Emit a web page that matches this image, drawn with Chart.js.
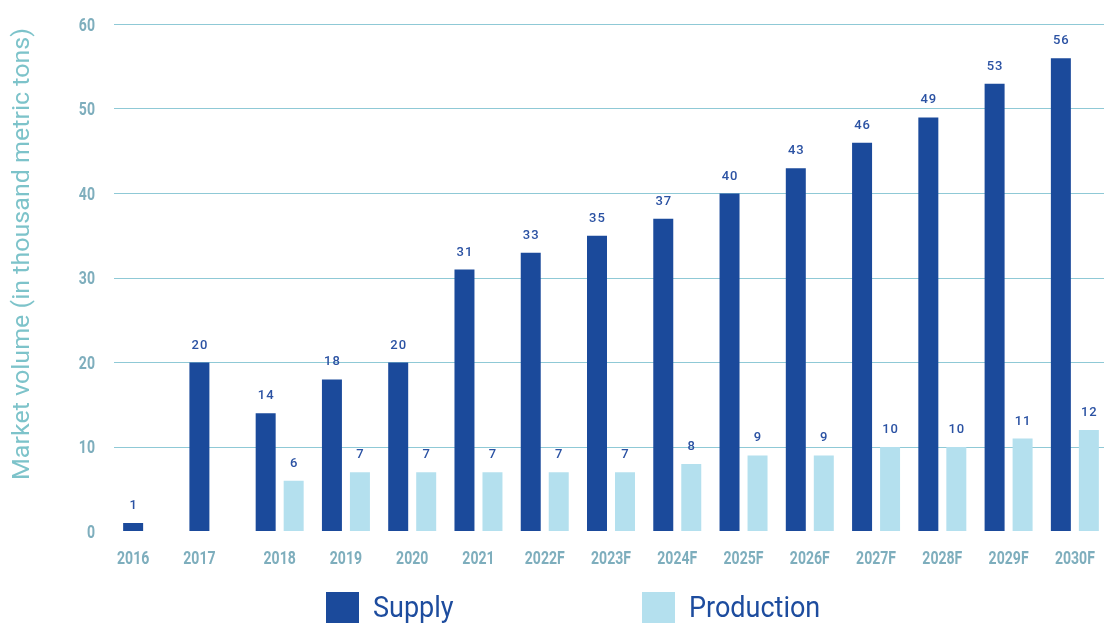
<!DOCTYPE html>
<html>
<head>
<meta charset="utf-8">
<script src="https://cdn.jsdelivr.net/npm/chart.js@4"></script>
<style>
  html, body { margin: 0; padding: 0; background: #ffffff; }
  #wrap { position: relative; width: 1104px; height: 623px; overflow: hidden; }
  #chart { position: absolute; left: 0; top: 0; }
  .legend-item { position: absolute; top: 592px; height: 31px; }
  .legend-box { position: absolute; left: 0; top: 0; width: 33px; height: 31px; }
  .legend-text { position: absolute; left: 47px; top: -3px; white-space: nowrap;
    font-family: Roboto, "Noto Sans", sans-serif; font-size: 30px; line-height: 36px; color: #1d4c9e;
    transform: scaleX(0.9); transform-origin: left center; }
</style>
</head>
<body>
<div id="wrap">
  <canvas id="chart" width="1108" height="623"></canvas>
  <div class="legend-item" style="left:326px"><div class="legend-box" style="background:#1b4a9b"></div><span class="legend-text">Supply</span></div>
  <div class="legend-item" style="left:642px"><div class="legend-box" style="background:#b4e0ee"></div><span class="legend-text">Production</span></div>
</div>
<script>
// Market volume, thousand metric tons
const categories = ['2016', '2017', '2018', '2019', '2020', '2021', '2022F', '2023F', '2024F', '2025F', '2026F', '2027F', '2028F', '2029F', '2030F'];
const supply     = [1, 20, 14, 18, 20, 31, 33, 35, 37, 40, 43, 46, 49, 53, 56];
const production = [null, null, 6, 7, 7, 7, 7, 7, 8, 9, 9, 10, 10, 11, 12];
const yTicks     = [0, 10, 20, 30, 40, 50, 60];
const yTitle     = 'Market volume (in thousand metric tons)';

const SUPPLY_COLOR = '#1b4a9b';
const PRODUCTION_COLOR = '#b4e0ee';
const GRID_COLOR = '#8fc9d6';
const AXIS_TEXT = '#7eaebd';
const TITLE_TEXT = '#7dc3ca';
const VALUE_TEXT = '#2b52a3';
const FONT = 'Roboto, "Noto Sans", sans-serif';
const NARROW = 0.74;   // horizontal squeeze for the condensed axis lettering

function drawSqueezed(ctx, text, x, y, align, sx) {
  ctx.save();
  ctx.translate(x, y);
  ctx.scale(sx, 1);
  ctx.textAlign = align;
  ctx.fillText(text, 0, 0);
  ctx.restore();
}

// Value labels above each bar
const valueLabels = {
  id: 'valueLabels',
  afterDatasetsDraw(chart) {
    const ctx = chart.ctx;
    ctx.save();
    ctx.fillStyle = VALUE_TEXT;
    ctx.font = '500 13px ' + FONT;
    ctx.letterSpacing = '1px';
    ctx.textAlign = 'center';
    ctx.textBaseline = 'alphabetic';
    chart.data.datasets.forEach((ds, di) => {
      const meta = chart.getDatasetMeta(di);
      meta.data.forEach((bar, i) => {
        const v = ds.data[i];
        if (v === null || v === undefined) return;
        ctx.fillText(String(v), bar.x + 0.5, bar.y - 14);
      });
    });
    ctx.restore();
  }
};

// Axis lettering: category labels, value ticks and the rotated title
const axisText = {
  id: 'axisText',
  afterDraw(chart) {
    const ctx = chart.ctx;
    const xScale = chart.scales.x;
    const yScale = chart.scales.y;
    const supplyMeta = chart.getDatasetMeta(0);
    ctx.save();
    ctx.fillStyle = AXIS_TEXT;
    ctx.font = 'bold 19px ' + FONT;
    ctx.textBaseline = 'alphabetic';

    // years without a production bar sit under the supply bar
    const yBase = chart.chartArea.bottom + 32;
    categories.forEach((label, i) => {
      const x = production[i] === null ? supplyMeta.data[i].x : xScale.getPixelForValue(i);
      drawSqueezed(ctx, label, x, yBase, 'center', NARROW);
    });

    yTicks.forEach(v => {
      drawSqueezed(ctx, String(v), 95, yScale.getPixelForValue(v) + 6, 'right', NARROW);
    });

    // title along the value axis
    ctx.fillStyle = TITLE_TEXT;
    ctx.font = '400 24px ' + FONT;
    const w = ctx.measureText(yTitle).width;
    ctx.translate(23, 254);
    ctx.rotate(-Math.PI / 2);
    ctx.scale(452 / w, 1);
    ctx.textAlign = 'center';
    ctx.textBaseline = 'middle';
    ctx.fillText(yTitle, 0, 0);
    ctx.restore();
  }
};

new Chart(document.getElementById('chart'), {
  type: 'bar',
  data: {
    labels: categories,
    datasets: [
      { label: 'Supply', data: supply, backgroundColor: SUPPLY_COLOR },
      { label: 'Production', data: production, backgroundColor: PRODUCTION_COLOR }
    ]
  },
  options: {
    responsive: false,
    animation: false,
    categoryPercentage: 0.845,
    barPercentage: 0.714,
    layout: { padding: { top: 24.5, right: 0, bottom: 91.5, left: 0 } },
    plugins: {
      legend: { display: false },
      tooltip: { enabled: false }
    },
    scales: {
      x: {
        grid: { display: false },
        border: { display: false },
        ticks: { display: false },
        afterFit(scale) { scale.height = 0; }
      },
      y: {
        min: 0,
        max: 60,
        afterBuildTicks(scale) { scale.ticks = yTicks.map(v => ({ value: v })); },
        afterFit(scale) { scale.width = 114; },
        border: { display: false },
        grid: {
          drawTicks: false,
          lineWidth: 1,
          color: ctx => (ctx.tick && ctx.tick.value === 0) ? 'rgba(0,0,0,0)' : GRID_COLOR
        },
        ticks: { display: false }
      }
    }
  },
  plugins: [valueLabels, axisText]
});
</script>
</body>
</html>
